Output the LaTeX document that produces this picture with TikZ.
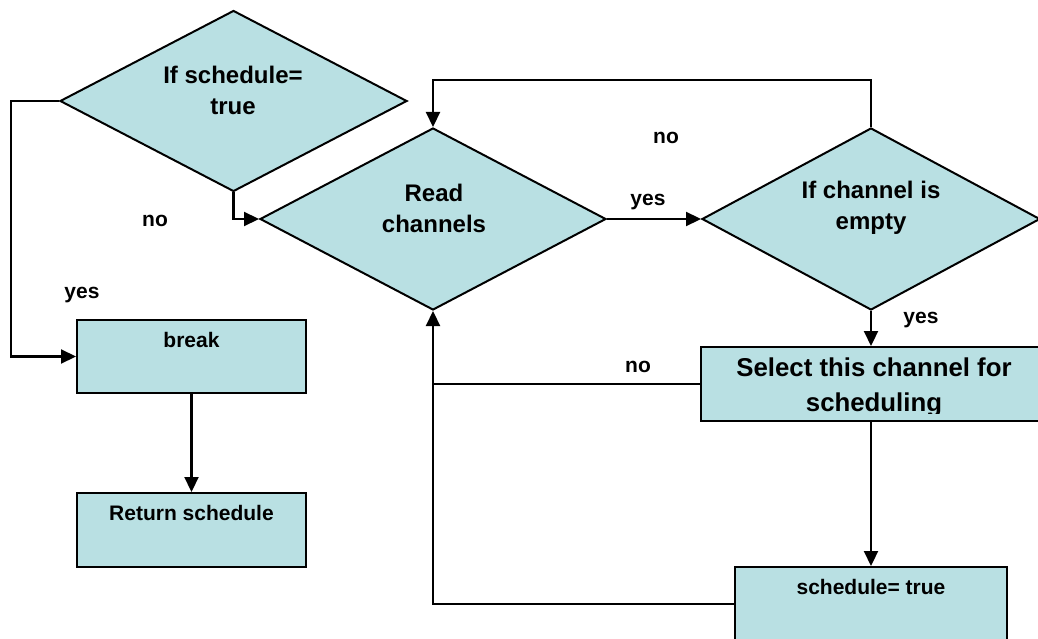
\documentclass[tikz,border=0pt]{standalone}
\usepackage{fontspec}
\setmainfont{Liberation Sans}
\usetikzlibrary{shapes.geometric,arrows.meta}
\definecolor{boxfill}{RGB}{185,224,227}
\begin{document}
\begin{tikzpicture}[x=1pt,y=-1pt,
  shapeline/.style={draw=black,line width=2pt,fill=boxfill},
  decision/.style={shapeline,diamond,inner sep=0pt},
  stepbox/.style={shapeline,rectangle,inner sep=0pt},
  conn/.style={line width=2.2pt},
  arr/.style={conn,-{Triangle[length=15pt,width=14pt]}},
  bigtxt/.style={font=\fontsize{24}{31}\selectfont\bfseries,align=center,inner sep=0pt},
  boxtxt/.style={font=\fontsize{21}{26}\selectfont\bfseries,align=center,inner sep=0pt},
  seltxt/.style={font=\fontsize{25.8}{35}\selectfont\bfseries,align=center,inner sep=0pt},
  lbl/.style={font=\fontsize{21}{25}\selectfont\bfseries,inner sep=0pt}]
\useasboundingbox (0,0) rectangle (1038,639);
\clip (0,0) rectangle (1038,639);

% decisions
\node[decision,minimum width=347pt,minimum height=181pt] (d1) at (233.5,101) {};
\node[bigtxt] (d1t) at (233,90) {If schedule=\\true};
\node[decision,minimum width=346pt,minimum height=182pt] (rd) at (433,219) {};
\node[bigtxt] (rdt) at (434,208) {Read\\channels};
\node[decision,minimum width=338pt,minimum height=182pt] (ce) at (871,219) {};
\node[bigtxt] (cet) at (871,208) {If channel is\\empty};

% process boxes
\node[stepbox,minimum width=229pt,minimum height=73pt] (brk) at (191.5,356.5) {};
\node[boxtxt] (brkt) at (191.5,340) {break};
\node[stepbox,minimum width=229pt,minimum height=74pt] (ret) at (191.5,530) {};
\node[boxtxt] (rett) at (191.5,513) {Return schedule};
\node[stepbox,minimum width=340pt,minimum height=74pt] (sel) at (871,384) {};
\begin{scope}
  \clip (701,347) rectangle (1038,413);
  \node[seltxt] (selt) at (874,387) {Select this channel for\\scheduling};
\end{scope}
\node[stepbox,minimum width=272pt,minimum height=74pt] (st) at (871,604) {};
\node[boxtxt] (stt) at (871,587) {schedule= true};

% connectors
\draw[arr] (d1.west) -- ++(-48,0) |- (brk.west);
\draw[arr] (d1.south) |- (rd.west);
\draw[arr] (rd.east) -- (ce.west);
\draw[arr] (ce.north) -- ++(0,-47) -| (rd.north);
\draw[arr] (ce.south) -- (sel.north);
\draw[conn] (sel.west) -- (sel.west -| rd.south);
\draw[arr] (sel.south) -- (st.north);
\draw[arr] (st.west) -| (rd.south);
\draw[arr] (brk.south) -- (ret.north);

% branch labels
\node[lbl] (l1) at (155,221) {no};
\node[lbl] (l2) at (82,295) {yes};
\node[lbl] (l3) at (666,138) {no};
\node[lbl] (l4) at (648,202) {yes};
\node[lbl] (l5) at (921,320) {yes};
\node[lbl] (l6) at (638,367) {no};
\end{tikzpicture}
\end{document}
